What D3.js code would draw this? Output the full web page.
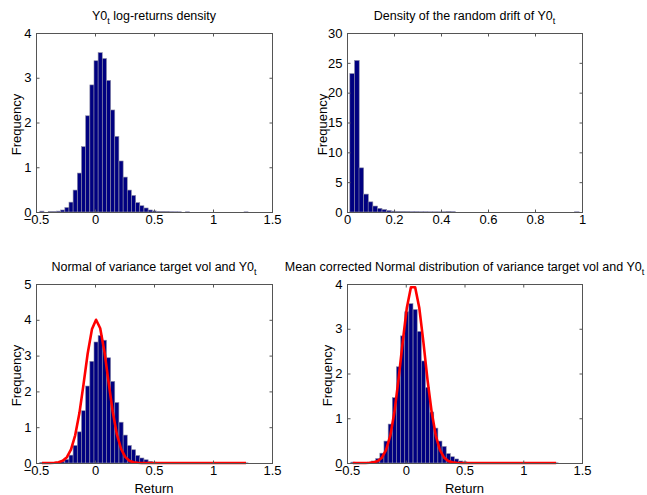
<!DOCTYPE html>
<html>
<head>
<meta charset="utf-8">
<script src="https://cdn.jsdelivr.net/npm/d3@7"></script>
<style>
  body { margin: 0; background: #fff; }
  text { font-family: "Liberation Sans", Arial, sans-serif; fill: #000; }
</style>
</head>
<body>
<script>
// histogram bin centres of the Y0 log-returns
const retCenters = [-0.450, -0.415, -0.379, -0.344, -0.309, -0.274, -0.238, -0.203, -0.168, -0.132,
    -0.097, -0.062, -0.026, 0.009, 0.044, 0.080, 0.115, 0.150, 0.185, 0.221,
    0.256, 0.291, 0.327, 0.362, 0.397, 0.433, 0.468, 0.503, 0.538, 0.574,
    0.609, 0.644, 0.680, 0.715, 0.750, 0.785, 0.821, 0.856, 0.891, 0.927,
    0.962, 0.997, 1.032, 1.068, 1.103, 1.138, 1.174, 1.209, 1.244, 1.280];

const retDensity = [0.02, 0, 0.01, 0.01, 0.02, 0.045, 0.10, 0.22, 0.49, 0.87,
    1.46, 2.15, 2.84, 3.38, 3.56, 3.43, 2.94, 2.28, 1.69, 1.14,
    0.78, 0.49, 0.37, 0.21, 0.14, 0.09, 0.045, 0.025, 0.015, 0.012,
    0.008, 0.006, 0.005, 0.004, 0, 0.004, 0, 0, 0, 0,
    0, 0, 0, 0, 0, 0, 0, 0, 0, 0.003];

// histogram of the random drift
const driftCenters = [0.022, 0.042, 0.061, 0.081, 0.100, 0.120, 0.139, 0.159, 0.178, 0.198,
    0.217, 0.237, 0.256, 0.276, 0.295, 0.315, 0.334, 0.354, 0.373, 0.393,
    0.412, 0.432, 0.451, 0.471, 0.490, 0.510, 0.529, 0.549, 0.568, 0.588,
    0.607, 0.627, 0.646, 0.666, 0.685, 0.705, 0.724, 0.744, 0.763, 0.783,
    0.802, 0.822, 0.841, 0.861, 0.880, 0.900, 0.919, 0.939, 0.958, 0.978];

const driftDensity = [23.2, 25.4, 7.4, 3.0, 1.7, 1.0, 0.62, 0.42, 0.25, 0.15,
    0.10, 0.08, 0.06, 0.05, 0.05, 0.04, 0.04, 0.03, 0.03, 0.03,
    0.04, 0.06, 0.05, 0, 0, 0, 0, 0, 0, 0,
    0, 0, 0, 0, 0, 0, 0, 0, 0, 0,
    0, 0, 0, 0, 0, 0, 0, 0, 0, 0.03];

// red curves, read at the return bin centres
const normalFit = [0.0001, 0.0003, 0.0015, 0.006, 0.02, 0.061, 0.162, 0.378, 0.774, 1.394,
    2.204, 3.06, 3.733, 4.0, 3.764, 3.11, 2.258, 1.44, 0.806, 0.397,
    0.171, 0.065, 0.022, 0.006, 0.002, 0, 0, 0, 0, 0,
    0, 0, 0, 0, 0, 0, 0, 0, 0, 0,
    0, 0, 0, 0, 0, 0, 0, 0, 0, 0];

const normalFitCorrected = [0, 0, 0.0002, 0.001, 0.004, 0.014, 0.044, 0.119, 0.286, 0.604,
    1.127, 1.857, 2.70, 3.465, 3.927, 3.929, 3.471, 2.707, 1.863, 1.133,
    0.608, 0.288, 0.120, 0.045, 0.015, 0.004, 0.001, 0, 0, 0,
    0, 0, 0, 0, 0, 0, 0, 0, 0, 0,
    0, 0, 0, 0, 0, 0, 0, 0, 0, 0];

const retTicksX = [-0.5, 0, 0.5, 1, 1.5];
const driftTicksX = [0, 0.2, 0.4, 0.6, 0.8, 1];

const svg = d3.select("body").append("svg")
    .attr("width", 647)
    .attr("height", 495);

const panels = [
    { box: [36, 272, 33, 212], xDomain: [-0.5, 1.5], yDomain: [0, 4], xTicks: retTicksX, yTicks: [0, 1, 2, 3, 4],
      centers: retCenters, values: retDensity, curve: null, labelX: 16, xlabel: false,
      title: [["Y0"], ["t", true], [" log-returns density"]] },
    { box: [347, 582, 33, 212], xDomain: [0, 1], yDomain: [0, 30], xTicks: driftTicksX, yTicks: [0, 5, 10, 15, 20, 25, 30],
      centers: driftCenters, values: driftDensity, curve: null, labelX: 322, xlabel: false,
      title: [["Density of the random drift of Y0"], ["t", true]] },
    { box: [36, 272, 284, 463], xDomain: [-0.5, 1.5], yDomain: [0, 5], xTicks: retTicksX, yTicks: [0, 1, 2, 3, 4, 5],
      centers: retCenters, values: retDensity, curve: normalFit, labelX: 16, xlabel: true,
      title: [["Normal of variance target vol and Y0"], ["t", true]] },
    { box: [347, 582, 284, 463], xDomain: [-0.5, 1.5], yDomain: [0, 4], xTicks: retTicksX, yTicks: [0, 1, 2, 3, 4],
      centers: retCenters, values: retDensity, curve: normalFitCorrected, labelX: 327, xlabel: true,
      title: [["Mean corrected Normal distribution of variance target vol and Y0"], ["t", true]] }
];

panels.forEach(drawPanel);

function drawPanel(p) {
    const [left, right, top, bottom] = p.box;
    const x = d3.scaleLinear().domain(p.xDomain).range([left, right]);
    const y = d3.scaleLinear().domain(p.yDomain).range([bottom, top]);
    const fmt = d3.format("~g");
    const w = p.centers[1] - p.centers[0];
    const g = svg.append("g");

    // bars
    g.append("g")
        .selectAll("rect")
        .data(p.centers.map((c, i) => ({ c: c, v: p.values[i] })).filter(d => d.v > 0))
        .enter().append("rect")
        .attr("x", d => x(d.c - w / 2))
        .attr("width", d => x(d.c + w / 2) - x(d.c - w / 2))
        .attr("y", d => y(d.v))
        .attr("height", d => y(0) - y(d.v))
        .attr("fill", "#000080")
        .attr("stroke", "#8c8ca6")
        .attr("stroke-width", 0.6);

    // fitted curve
    if (p.curve) {
        const line = d3.line()
            .x((d, i) => x(p.centers[i]))
            .y(d => y(d));
        g.append("path")
            .datum(p.curve)
            .attr("d", line)
            .attr("fill", "none")
            .attr("stroke", "#ff0000")
            .attr("stroke-width", 2.6)
            .attr("stroke-linejoin", "round");
    }

    // box and ticks
    g.append("rect")
        .attr("x", left + 0.5).attr("y", top + 0.5)
        .attr("width", right - left).attr("height", bottom - top)
        .attr("fill", "none")
        .attr("stroke", "#555");

    const xAxis = g.append("g")
        .attr("transform", `translate(0,${bottom + 0.5})`)
        .call(d3.axisBottom(x).tickValues(p.xTicks).tickFormat(fmt).tickSizeInner(-3).tickSizeOuter(0).tickPadding(2));
    g.append("g")
        .attr("transform", `translate(0,${top + 0.5})`)
        .call(d3.axisTop(x).tickValues(p.xTicks).tickFormat("").tickSizeInner(-3).tickSizeOuter(0));
    const yAxis = g.append("g")
        .attr("transform", `translate(${left + 0.5},0)`)
        .call(d3.axisLeft(y).tickValues(p.yTicks).tickFormat(fmt).tickSizeInner(-3).tickSizeOuter(0).tickPadding(5));
    g.append("g")
        .attr("transform", `translate(${right + 0.5},0)`)
        .call(d3.axisRight(y).tickValues(p.yTicks).tickFormat("").tickSizeInner(-3).tickSizeOuter(0));

    g.selectAll(".domain").remove();
    g.selectAll(".tick line").attr("stroke", "#555");
    g.selectAll(".tick text")
        .style("font-family", "'Liberation Sans', Arial, sans-serif")
        .style("font-size", "13px")
        .attr("fill", "#000");

    // title with subscript
    const title = g.append("text")
        .attr("x", (left + right) / 2)
        .attr("y", top - 13)
        .attr("text-anchor", "middle")
        .style("font-size", "12.5px");
    p.title.forEach(([s, sub]) => {
        title.append("tspan")
            .attr("dy", sub ? 4 : (s === p.title[0][0] ? 0 : -4))
            .style("font-size", sub ? "9px" : null)
            .text(s);
    });

    g.append("text")
        .attr("transform", `translate(${p.labelX},${(top + bottom) / 2 + 2}) rotate(-90)`)
        .attr("text-anchor", "middle")
        .attr("dominant-baseline", "central")
        .style("font-size", "13px")
        .text("Frequency");

    if (p.xlabel) {
        g.append("text")
            .attr("x", (left + right) / 2)
            .attr("y", bottom + 30)
            .attr("text-anchor", "middle")
            .style("font-size", "13px")
            .text("Return");
    }
}
</script>
</body>
</html>
